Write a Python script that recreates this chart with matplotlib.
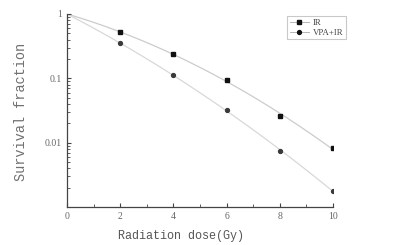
import numpy as np
import matplotlib
matplotlib.use("Agg")
import matplotlib.pyplot as plt
from matplotlib.ticker import FixedLocator, FixedFormatter, LogLocator, MultipleLocator, NullFormatter

dose = [2, 4, 6, 8, 10]
ir = [0.53, 0.24, 0.093, 0.026, 0.0082]
vpa_ir = [0.36, 0.111, 0.032, 0.0074, 0.0018]
y_ticks = [1, 0.1, 0.01]
y_labels = ["1", "0.1", "0.01"]
x_ticks = [0, 2, 4, 6, 8, 10]

def lq_fit(d, s):
    d = np.asarray(d, float)
    A = np.column_stack([d, d ** 2])
    coef, *_ = np.linalg.lstsq(A, np.log(s), rcond=None)
    xs = np.linspace(0, 10, 200)
    return xs, np.exp(coef[0] * xs + coef[1] * xs ** 2)

fig = plt.figure(figsize=(3.94, 2.45), dpi=100)
ax = fig.add_axes([0.170, 0.155, 0.675, 0.788])

xs, fi = lq_fit(dose, ir)
ax.plot(xs, fi, color="#cccccc", lw=0.9, zorder=1)
xs, fv = lq_fit(dose, vpa_ir)
ax.plot(xs, fv, color="#d8d8d8", lw=0.9, zorder=1)
ax.plot(dose, ir, ls="none", marker="s", ms=3.2, color="#111111", label="IR", zorder=3)
ax.plot(dose, vpa_ir, ls="none", marker="o", ms=2.8, color="#3a3a3a", label="VPA+IR", zorder=3)

ax.set_yscale("log")
ax.set_xlim(0, 10)
ax.set_ylim(0.001, 1)
ax.yaxis.set_major_locator(FixedLocator(y_ticks))
ax.yaxis.set_major_formatter(FixedFormatter(y_labels))
ax.yaxis.set_minor_locator(LogLocator(base=10, subs=np.arange(2, 10)))
ax.yaxis.set_minor_formatter(NullFormatter())
ax.xaxis.set_major_locator(FixedLocator(x_ticks))
ax.xaxis.set_minor_locator(MultipleLocator(1))

for s in ["top", "right"]:
    ax.spines[s].set_visible(False)
for s in ["left", "bottom"]:
    ax.spines[s].set_color("#444444")
    ax.spines[s].set_linewidth(0.9)

ax.tick_params(which="both", direction="in", colors="#444444", labelcolor="#666666", labelsize=7)
ax.tick_params(which="major", length=3, width=0.8)
ax.tick_params(which="minor", length=2, width=0.6)
for lab in ax.get_xticklabels() + ax.get_yticklabels():
    lab.set_family("Liberation Serif")

ax.set_xlabel("Radiation dose(Gy)", family="Liberation Mono", color="#555555", fontsize=8.5)
ax.xaxis.set_label_coords(0.43, -0.12)
ax.set_ylabel("Survival fraction", family="Liberation Mono", color="#707070", fontsize=9.8)
ax.yaxis.set_label_coords(-0.148, 0.49)

leg = ax.legend(loc="upper right", bbox_to_anchor=(1.065, 1.01), frameon=True, fancybox=False,
                edgecolor="#bbbbbb", handlelength=2.2, borderpad=0.3, labelspacing=0.15, handletextpad=0.4,
                prop={"family": "Liberation Serif", "size": 6.3})
leg.get_frame().set_linewidth(0.8)
for t in leg.get_texts():
    t.set_color("#444444")
for h in leg.get_lines():
    h.set_linestyle("-")
    h.set_linewidth(0.6)
    h.set_color("#aaaaaa")
    h.set_markerfacecolor("#111111")
    h.set_markeredgecolor("#111111")

fig.savefig("out.png", dpi=100, facecolor="white")
